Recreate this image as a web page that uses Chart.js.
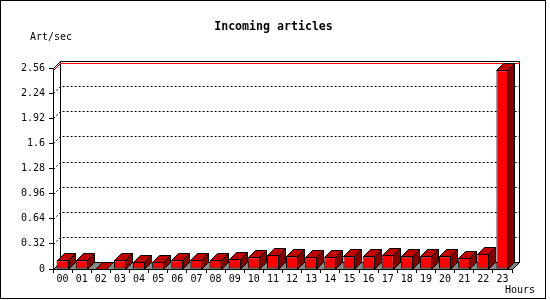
<!DOCTYPE html>
<html>
<head>
<meta charset="utf-8">
<script src="https://cdn.jsdelivr.net/npm/chart.js@4/dist/chart.umd.min.js"></script>
<style>
  html, body { margin: 0; padding: 0; background: #fff; }
</style>
</head>
<body>
<canvas id="chart" width="550" height="300"></canvas>
<script>
const hours = ['00', '01', '02', '03', '04', '05', '06', '07', '08', '09', '10', '11',
               '12', '13', '14', '15', '16', '17', '18', '19', '20', '21', '22', '23'];
const articles = [0.11, 0.11, 0, 0.11, 0.09, 0.09, 0.11, 0.12, 0.12, 0.13, 0.15, 0.18,
                  0.16, 0.15, 0.15, 0.16, 0.16, 0.18, 0.16, 0.16, 0.16, 0.14, 0.19, 2.53];
const yTicks = [0, 0.32, 0.64, 0.96, 1.28, 1.6, 1.92, 2.24, 2.56];
const chartTitle = 'Incoming articles';
const yUnit = 'Art/sec';
const xUnit = 'Hours';

const DEPTH = 7; // 3d offset in px
const MONO = '"DejaVu Sans Mono", "Liberation Mono", monospace';

const depth3d = {
    id: 'depth3d',
    beforeDraw(chart) {
        const ctx = chart.ctx;
        ctx.save();
        ctx.fillStyle = '#fff';
        ctx.fillRect(0, 0, chart.width, chart.height);
        ctx.restore();
    },
    beforeDatasetsDraw(chart) {
        const ctx = chart.ctx;
        const { left: L, right: R, top: T, bottom: B } = chart.chartArea;
        const yScale = chart.scales.y;
        const D = DEPTH;
        ctx.save();
        ctx.lineWidth = 1;
        ctx.strokeStyle = '#000';

        // back wall
        ctx.fillStyle = '#fff';
        ctx.fillRect(L + D, T - D, R - L, B - T);
        ctx.strokeRect(L + D + 0.5, T - D + 0.5, R - L, B - T);
        ctx.beginPath();
        ctx.moveTo(L + 0.5, T + 0.5);
        ctx.lineTo(L + D + 0.5, T - D + 0.5);
        ctx.stroke();

        // floor
        ctx.beginPath();
        ctx.moveTo(L + 0.5, B + 0.5);
        ctx.lineTo(R + 0.5, B + 0.5);
        ctx.lineTo(R + D + 0.5, B - D + 0.5);
        ctx.lineTo(L + D + 0.5, B - D + 0.5);
        ctx.closePath();
        ctx.fillStyle = '#888888';
        ctx.fill();
        ctx.stroke();

        // dotted grid on the back wall
        ctx.setLineDash([2, 2]);
        yTicks.slice(1, -1).forEach(v => {
            const y = Math.round(yScale.getPixelForValue(v)) + 0.5;
            ctx.beginPath();
            ctx.moveTo(L + 0.5, y);
            ctx.lineTo(L + D + 0.5, y - D);
            ctx.lineTo(R + D + 0.5, y - D);
            ctx.stroke();
        });
        ctx.setLineDash([]);

        // max value line
        const ym = Math.round(yScale.getPixelForValue(Math.max(...articles))) + 0.5;
        ctx.strokeStyle = '#ff0000';
        ctx.beginPath();
        ctx.moveTo(L + 0.5, ym);
        ctx.lineTo(L + D + 0.5, ym - D);
        ctx.lineTo(R + D, ym - D);
        ctx.stroke();
        ctx.restore();
    },
    afterDatasetsDraw(chart) {
        const ctx = chart.ctx;
        const D = DEPTH;
        ctx.save();
        ctx.lineWidth = 1;
        ctx.strokeStyle = '#000';
        chart.getDatasetMeta(0).data.forEach(bar => {
            const l = Math.round(bar.x - bar.width / 2) + 0.5;
            const r = Math.round(bar.x + bar.width / 2) - 0.5;
            const t = Math.round(bar.y) + 0.5;
            const b = Math.round(bar.base) + 0.5;
            // top face
            ctx.beginPath();
            ctx.moveTo(l, t);
            ctx.lineTo(l + D, t - D);
            ctx.lineTo(r + D, t - D);
            ctx.lineTo(r, t);
            ctx.closePath();
            ctx.fillStyle = '#c00000';
            ctx.fill();
            ctx.stroke();
            // side face
            ctx.beginPath();
            ctx.moveTo(r, t);
            ctx.lineTo(r + D, t - D);
            ctx.lineTo(r + D, b - D);
            ctx.lineTo(r, b);
            ctx.closePath();
            ctx.fillStyle = '#800000';
            ctx.fill();
            ctx.stroke();
        });
        ctx.restore();
    },
    afterDraw(chart) {
        const ctx = chart.ctx;
        ctx.save();
        ctx.fillStyle = '#000';
        ctx.textBaseline = 'middle';
        ctx.font = 'bold 11.6px ' + MONO;
        ctx.textAlign = 'center';
        ctx.fillText(chartTitle, 273.5, 27);
        ctx.font = '10px ' + MONO;
        ctx.textAlign = 'left';
        ctx.fillText(yUnit, 30, 37);
        ctx.textAlign = 'right';
        ctx.fillText(xUnit, 535, 290);
        // image frame
        ctx.strokeStyle = '#000';
        ctx.lineWidth = 1;
        ctx.strokeRect(0.5, 0.5, 545, 298);
        ctx.restore();
    }
};

const tickFont = { family: MONO, size: 10 };

new Chart(document.getElementById('chart').getContext('2d'), {
    type: 'bar',
    data: {
        labels: hours,
        datasets: [{
            data: articles,
            backgroundColor: '#ff0000',
            borderColor: '#000',
            borderWidth: 1,
            borderSkipped: false,
            barPercentage: 0.63,
            categoryPercentage: 1
        }]
    },
    options: {
        responsive: false,
        animation: false,
        layout: { padding: { left: 0, right: 38, top: 68, bottom: 0 } },
        plugins: {
            legend: { display: false },
            tooltip: { enabled: false },
            title: { display: false }
        },
        scales: {
            x: {
                grid: { drawOnChartArea: false, offset: true, tickLength: 4, color: '#000' },
                border: { display: true, color: '#000' },
                ticks: { font: tickFont, color: '#000', padding: 0, maxRotation: 0, autoSkip: false },
                afterFit: s => { s.height = 31; }
            },
            y: {
                min: 0,
                max: 2.56,
                grid: { drawOnChartArea: false, tickLength: 4, color: '#000' },
                border: { display: true, color: '#000' },
                ticks: { font: tickFont, color: '#000', padding: 4, callback: v => String(+v.toFixed(2)) },
                afterBuildTicks: s => { s.ticks = yTicks.map(v => ({ value: v })); },
                afterFit: s => { s.width = 53; }
            }
        }
    },
    plugins: [depth3d]
});
</script>
</body>
</html>
